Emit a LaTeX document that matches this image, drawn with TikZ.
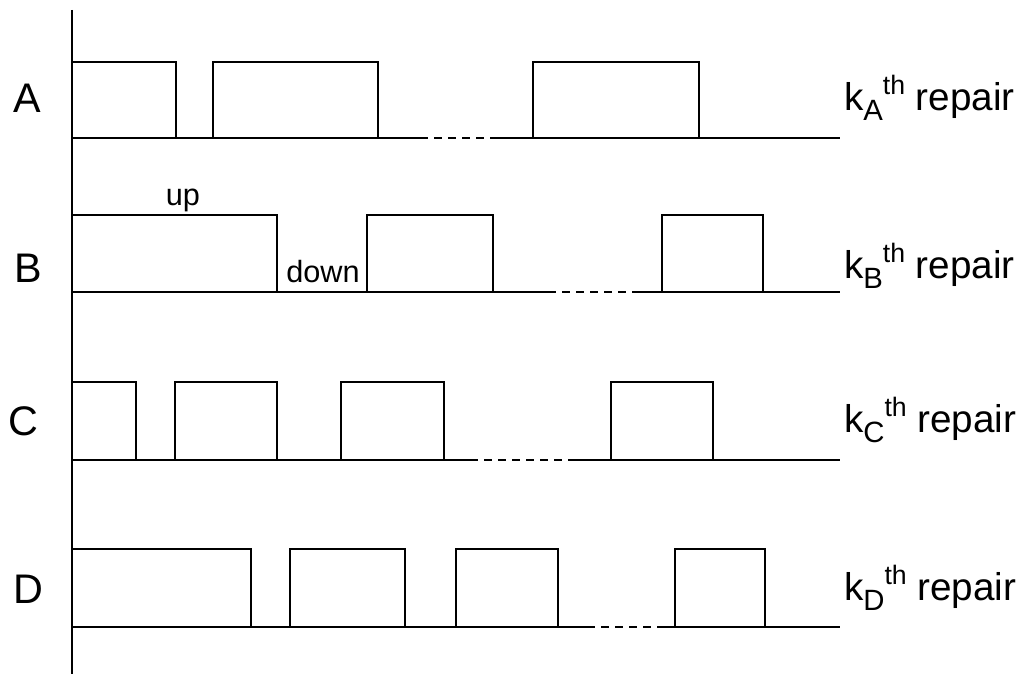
\documentclass[tikz,border=0pt]{standalone}
\usepackage{fontspec}
\setmainfont{Liberation Sans}
\newcommand{\kthrep}[1]{k\raisebox{-0.5ex}{\fontsize{22}{22}\selectfont #1}\raisebox{0.8ex}{\fontsize{20}{20}\selectfont th} repair}
\begin{document}
\begin{tikzpicture}[x=0.75pt,y=-0.75pt,line width=1.5pt,
    rowlbl/.style={font=\fontsize{31}{31}\selectfont},
    replbl/.style={anchor=west,inner sep=0pt,font=\fontsize{29}{29}\selectfont},
    statelbl/.style={inner sep=0pt,font=\fontsize{23}{23}\selectfont},
    gapline/.style={dash pattern=on 6pt off 4.5pt}]
    \useasboundingbox (0,0) rectangle (1023,674);

    \draw (72,10) -- (72,674);

    % baseline, gap, pulses
    \foreach \yl/\yh/\ga/\gb/\pulses in {
        138/62/420/493/{72/176,213/378,533/699},
        292/215/548/635/{72/277,367/493,662/763},
        460/382/470/570/{72/136,175/277,341/444,611/713},
        627/549/587/662/{72/251,290/405,456/558,675/765}} {
        \draw (72,\yl) -- (\ga,\yl);
        \draw[gapline] (\ga,\yl) -- (\gb,\yl);
        \draw (\gb,\yl) -- (840,\yl);
        \foreach \a/\b in \pulses
            \draw (\a,\yl) |- (\b,\yh) -- (\b,\yl);
    }

    \node[rowlbl] (labA) at (27,98) {A};
    \node[rowlbl] (labB) at (28,268) {B};
    \node[rowlbl] (labC) at (23,421) {C};
    \node[rowlbl] (labD) at (28,589) {D};

    \node[replbl] (repA) at (843,98) {\kthrep{A}};
    \node[replbl] (repB) at (843,266) {\kthrep{B}};
    \node[replbl] (repC) at (843,420) {\kthrep{C}};
    \node[replbl] (repD) at (843,588) {\kthrep{D}};

    \node[statelbl] (up) at (183,200) {up};
    \node[statelbl] (down) at (323,272) {down};
\end{tikzpicture}
\end{document}
